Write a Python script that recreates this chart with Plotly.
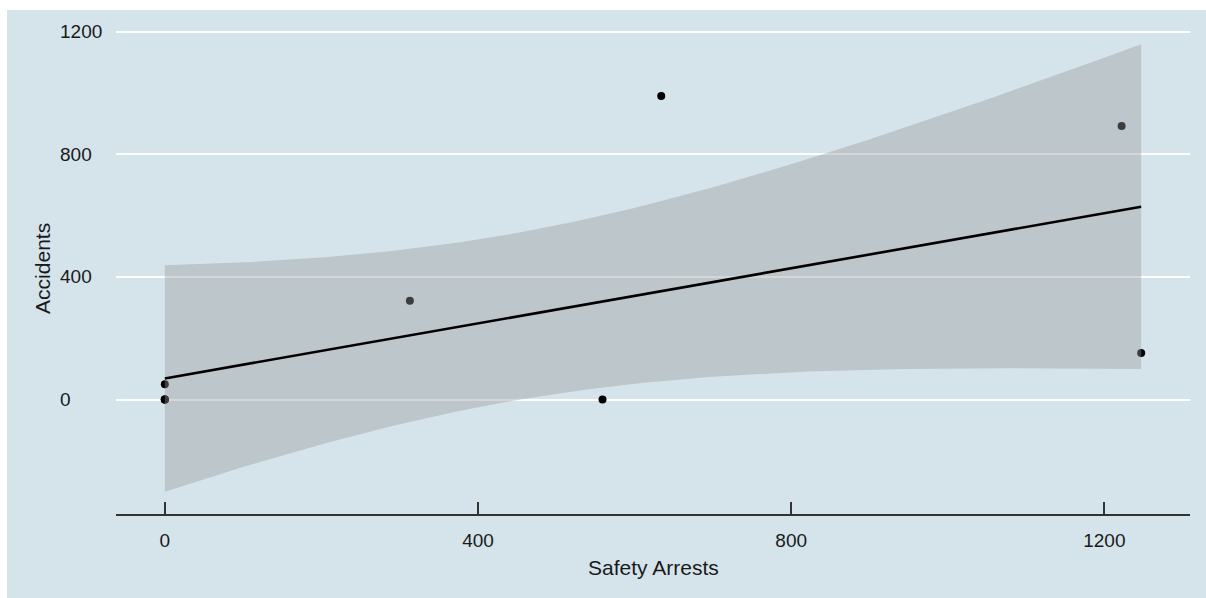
import numpy as np
import plotly.graph_objects as go

# ---- data ----
safety_arrests = [0, 0, 0, 0, 313, 559, 634, 1222, 1247]
accidents      = [0, 0, 0, 50, 322, 0, 990, 892, 152]
x_ticks = [0, 400, 800, 1200]
y_ticks = [0, 400, 800, 1200]
x_title = "Safety Arrests"
y_title = "Accidents"

BG = "#d5e4eb"
TXT = "#1a1a1a"
FONT = "Liberation Sans, Arial, sans-serif"

# ---- linear smooth with 95% CI (as geom_smooth(method="lm")) ----
x = np.array(safety_arrests, float)
y = np.array(accidents, float)
n = len(x)
slope, intercept = np.polyfit(x, y, 1)
resid = y - (intercept + slope * x)
s = np.sqrt(np.sum(resid ** 2) / (n - 2))
sxx = np.sum((x - x.mean()) ** 2)
T975 = {7: 2.364624, 8: 2.306004, 6: 2.446912}[n - 2]
xg = np.linspace(x.min(), x.max(), 80)
fit = intercept + slope * xg
se = s * np.sqrt(1 / n + (xg - x.mean()) ** 2 / sxx)
lo, hi = fit - T975 * se, fit + T975 * se

# ranges with 5% expansion (ggplot default)
xr = [x.min(), x.max()]
xpad = 0.05 * (xr[1] - xr[0])
ymin = min(lo.min(), y.min()); ymax = max(hi.max(), y.max())
ypad = 0.05 * (ymax - ymin)

fig = go.Figure()
fig.add_trace(go.Scatter(x=safety_arrests, y=accidents, mode="markers",
                         marker=dict(color="black", size=8), showlegend=False,
                         hoverinfo="x+y"))
fig.add_trace(go.Scatter(x=np.concatenate([xg, xg[::-1]]),
                         y=np.concatenate([hi, lo[::-1]]),
                         fill="toself", fillcolor="rgba(153,153,153,0.4)",
                         line=dict(width=0), mode="lines", showlegend=False,
                         hoverinfo="skip"))
fig.add_trace(go.Scatter(x=xg, y=fit, mode="lines",
                         line=dict(color="black", width=2.6), showlegend=False))

annotations = []
for v in y_ticks:
    annotations.append(dict(x=-0.054, xref="paper", y=v, yref="y", text=str(v),
                            showarrow=False, xanchor="left", yanchor="middle",
                            font=dict(size=19, color=TXT, family=FONT)))
annotations.append(dict(x=0.5, xref="paper", y=-0.108, yref="paper", text=x_title,
                        showarrow=False, xanchor="center", yanchor="middle",
                        font=dict(size=21, color=TXT, family=FONT)))
annotations.append(dict(x=-0.069, xref="paper", y=0.5, yref="paper", text=y_title,
                        textangle=-90, showarrow=False, xanchor="center", yanchor="middle",
                        font=dict(size=21, color=TXT, family=FONT)))

fig.update_layout(
    width=1206, height=598,
    margin=dict(l=116, r=16, t=22, b=84),
    paper_bgcolor=BG, plot_bgcolor="rgba(0,0,0,0)",
    font=dict(family=FONT, color=TXT, size=19),
    annotations=annotations,
    shapes=[
        dict(type="rect", xref="paper", yref="paper", x0=-0.2, x1=1.2, y0=1.0244, y1=1.2,
             fillcolor="white", line=dict(width=0), layer="above"),
        dict(type="rect", xref="paper", yref="paper", x0=-0.2, x1=-0.1015, y0=-0.3, y1=1.2,
             fillcolor="white", line=dict(width=0), layer="above"),
    ],
    xaxis=dict(range=[xr[0] - xpad, xr[1] + xpad], tickvals=x_ticks,
               showgrid=False, zeroline=False, showline=True, linecolor="#333333",
               linewidth=1.5, ticks="inside", ticklen=12, tickwidth=1.5,
               tickcolor="#333333", tickfont=dict(size=19, color=TXT, family=FONT),
               ticklabelstandoff=8),
    yaxis=dict(range=[ymin - ypad, ymax + ypad], tickvals=y_ticks,
               showgrid=True, gridcolor="white", gridwidth=2.2, zeroline=False,
               showline=False, showticklabels=False, ticks=""),
)

fig.write_html("out.html",
               config={"displayModeBar": False},
               post_script="document.body.style.margin='0';"
                           "document.body.style.overflow='hidden';")
